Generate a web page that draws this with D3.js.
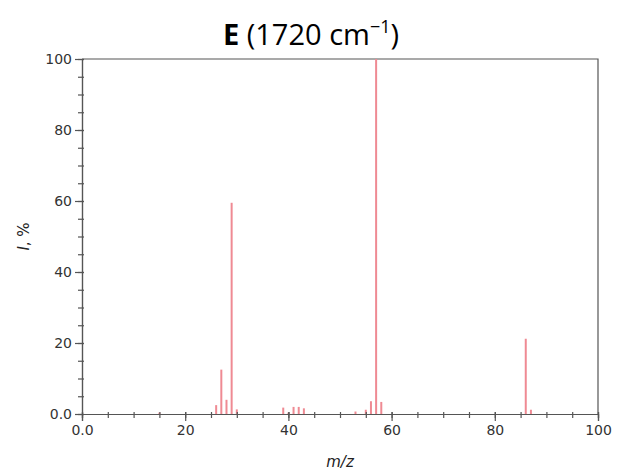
<!DOCTYPE html>
<html>
<head>
<meta charset="utf-8">
<script src="https://cdn.jsdelivr.net/npm/d3@7"></script>
<style>
  body { margin: 0; background: #fff; }
  svg { display: block; }
</style>
</head>
<body>
<svg id="chart" width="617" height="475"></svg>
<script>
// peak list (m/z, relative intensity %)
const mz =        [15,  26,  27,   28,  29,   30,  39,  40,  41,  42,  43,  53,  55,  56,  57,  58,  86,  87]
const intensity = [0.4, 2.5, 12.5, 4.0, 59.5, 1.3, 1.8, 0.4, 2.0, 2.0, 1.6, 0.7, 1.2, 3.6, 100, 3.4, 21.2, 1.2]

const xTicks = [0, 20, 40, 60, 80, 100]
const yTicks = [0, 20, 40, 60, 80, 100]

const margin = {top: 59, right: 19, bottom: 61, left: 82}
const width = 617, height = 475

let svg = d3.select('#chart')

let x = d3.scaleLinear().domain([0, 100]).range([margin.left, width - margin.right])
let y = d3.scaleLinear().domain([0, 100]).range([height - margin.bottom, margin.top])

const axisColor = '#555'
const fmt = d => d === 0 ? '0.0' : d

// frame (top + right)
svg.append('path')
  .attr('d', `M${x(0)},${y(100)}H${x(100)}V${y(0)}`)
  .attr('fill', 'none')
  .attr('stroke', axisColor)
  .attr('stroke-width', 1.2)

// peaks
svg.selectAll('line.peak')
  .data(mz.map((m, i) => ({m, v: intensity[i]})))
  .join('line')
  .attr('class', 'peak')
  .attr('x1', d => x(d.m)).attr('x2', d => x(d.m))
  .attr('y1', y(0)).attr('y2', d => y(d.v))
  .attr('stroke', '#ef8a93')
  .attr('stroke-width', 2)

// minor ticks
let xAxisMinor = d3.axisBottom(x).tickValues(d3.range(0, 101, 5)).tickSize(4).tickFormat('')
let yAxisMinor = d3.axisLeft(y).tickValues(d3.range(0, 101, 5)).tickSize(4).tickFormat('')

svg.append('g').attr('transform', `translate(0,${y(0)})`).call(xAxisMinor)
svg.append('g').attr('transform', `translate(${x(0)},0)`).call(yAxisMinor)

// major ticks + labels
let xg = svg.append('g')
  .attr('transform', `translate(0,${y(0)})`)
  .call(d3.axisBottom(x).tickValues(xTicks).tickSize(7).tickPadding(4).tickFormat(fmt))
let yg = svg.append('g')
  .attr('transform', `translate(${x(0)},0)`)
  .call(d3.axisLeft(y).tickValues(yTicks).tickSize(7).tickPadding(3).tickFormat(fmt))

svg.selectAll('.domain, .tick line')
  .attr('stroke', axisColor)
  .attr('stroke-width', 1.2)
svg.selectAll('.tick text')
  .attr('fill', '#333')
  .style('font-family', 'DejaVu Sans, sans-serif')
  .style('font-size', '14px')

// ticks cross the axis line slightly
svg.selectAll('.tick line').each(function () {
  let l = d3.select(this)
  if (l.attr('y2')) l.attr('y1', -2)
  if (l.attr('x2')) l.attr('x1', 2)
})

// axis labels
svg.append('text')
  .attr('x', (x(0) + x(100)) / 2)
  .attr('y', 467)
  .attr('text-anchor', 'middle')
  .style('font-family', 'DejaVu Sans, sans-serif')
  .style('font-size', '15px')
  .style('font-style', 'italic')
  .attr('fill', '#222')
  .text('m/z')

let yl = svg.append('text')
  .attr('transform', `translate(29,${(y(0) + y(100)) / 2}) rotate(-90)`)
  .attr('text-anchor', 'middle')
  .style('font-family', 'DejaVu Sans, sans-serif')
  .style('font-size', '15px')
  .attr('fill', '#222')
yl.append('tspan').style('font-style', 'italic').text('I')
yl.append('tspan').text(', %')

// title
let title = svg.append('text')
  .attr('x', 311)
  .attr('y', 45)
  .attr('text-anchor', 'middle')
  .style('font-family', 'Open Sans, Noto Sans, sans-serif')
  .style('font-size', '29px')
  .attr('fill', '#000')
title.append('tspan').style('font-weight', 'bold').text('E')
title.append('tspan').text(' (1720 cm')
title.append('tspan').attr('dy', -12).style('font-size', '18px').text('−1')
title.append('tspan').attr('dy', 12).text(')')
</script>
</body>
</html>
